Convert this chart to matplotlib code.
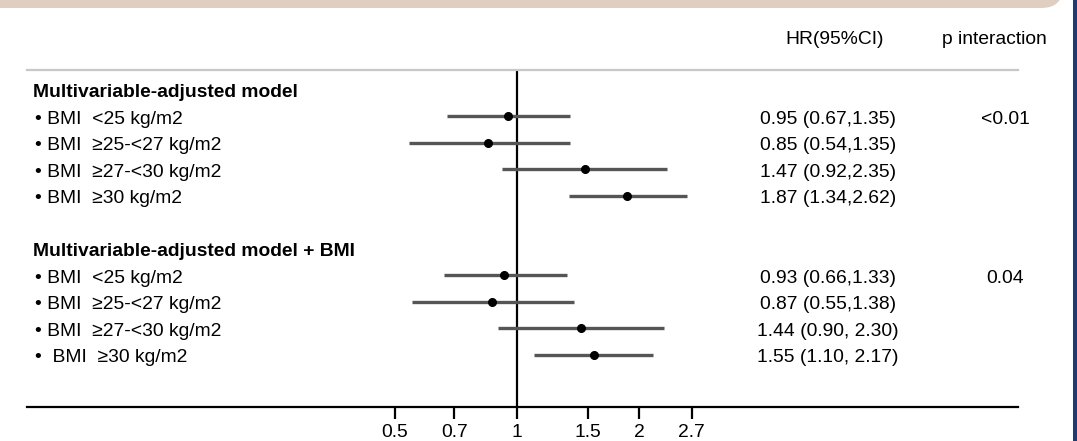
import matplotlib
matplotlib.use("Agg")
import matplotlib.pyplot as plt
from matplotlib.patches import FancyBboxPatch, Rectangle
from matplotlib.transforms import blended_transform_factory
import numpy as np

plt.rcParams['font.family'] = ['Liberation Sans', 'DejaVu Sans']

# ---- data ----
group_titles = ["Multivariable-adjusted model", "Multivariable-adjusted model + BMI"]
labels_g1 = ["• BMI  <25 kg/m2", "• BMI  ≥25-<27 kg/m2", "• BMI  ≥27-<30 kg/m2", "• BMI  ≥30 kg/m2"]
labels_g2 = ["• BMI  <25 kg/m2", "• BMI  ≥25-<27 kg/m2", "• BMI  ≥27-<30 kg/m2", "•  BMI  ≥30 kg/m2"]
hr_g1 = [0.95, 0.85, 1.47, 1.87]
lo_g1 = [0.67, 0.54, 0.92, 1.34]
hi_g1 = [1.35, 1.35, 2.35, 2.62]
hr_g2 = [0.93, 0.87, 1.44, 1.55]
lo_g2 = [0.66, 0.55, 0.90, 1.10]
hi_g2 = [1.33, 1.38, 2.30, 2.17]
hr_text_g1 = ["0.95 (0.67,1.35)", "0.85 (0.54,1.35)", "1.47 (0.92,2.35)", "1.87 (1.34,2.62)"]
hr_text_g2 = ["0.93 (0.66,1.33)", "0.87 (0.55,1.38)", "1.44 (0.90, 2.30)", "1.55 (1.10, 2.17)"]
p_interaction = ["<0.01", "0.04"]
xticks = [0.5, 0.7, 1, 1.5, 2, 2.7]
xtick_labels = ["0.5", "0.7", "1", "1.5", "2", "2.7"]

W, H = 1077, 441
fig = plt.figure(figsize=(W / 100, H / 100), dpi=100)

def fx(px):
    return px / W

def fy(py):
    return 1 - py / H

# decorative top band and right border
fig.patches.append(FancyBboxPatch((fx(-20), fy(8)), fx(1063 + 20), fy(-20) - fy(8),
                                  boxstyle="round,pad=0,rounding_size=0.02",
                                  transform=fig.transFigure, facecolor="#e0cfc1",
                                  edgecolor="none", mutation_aspect=W / H))
fig.patches.append(Rectangle((fx(1073), 0), fx(4), 1, transform=fig.transFigure,
                             facecolor="#1f3b6b", edgecolor="none"))

ax_left, ax_right, ax_top, ax_bot = 27, 1018, 70, 407
ax = fig.add_axes([fx(ax_left), fy(ax_bot), fx(ax_right - ax_left), (ax_bot - ax_top) / H])
ax.set_xscale("log")
ppu = 176.0  # pixels per ln unit
ax.set_xlim(np.exp((ax_left - 517) / ppu), np.exp((ax_right - 517) / ppu))
pitch = 26.5
y0 = 89.8
ax.set_ylim((ax_bot - y0) / pitch, (ax_top - y0) / pitch)

for s in ["left", "right"]:
    ax.spines[s].set_visible(False)
ax.spines["top"].set_color("#c8c8c8")
ax.spines["top"].set_linewidth(1.6)
ax.spines["bottom"].set_color("black")
ax.spines["bottom"].set_linewidth(1.6)
ax.set_yticks([])
ax.set_xticks(xticks)
ax.set_xticklabels(xtick_labels)
ax.xaxis.set_minor_locator(matplotlib.ticker.NullLocator())
fs = 13.9
ax.tick_params(axis="x", length=8.5, width=1.6, labelsize=fs, pad=4)

ax.axvline(1, color="black", lw=1.6, zorder=1)

tr_text = blended_transform_factory(fig.transFigure, ax.transData)
va = "center_baseline"
dy = 0.04  # small nudge so text sits like the reference

groups = [(group_titles[0], labels_g1, hr_g1, lo_g1, hi_g1, hr_text_g1, p_interaction[0], 0),
          (group_titles[1], labels_g2, hr_g2, lo_g2, hi_g2, hr_text_g2, p_interaction[1], 6)]
for title, labs, hr, lo, hi, txt, p, start in groups:
    ax.text(fx(33), start + dy, title, transform=tr_text, fontsize=fs, fontweight="bold",
            va=va, ha="left")
    for i in range(4):
        yy = start + 1 + i
        ax.plot([lo[i], hi[i]], [yy, yy], color="#555555", lw=2.4, solid_capstyle="butt", zorder=2)
        ax.plot(hr[i], yy, "o", color="black", ms=5.5, zorder=3)
        ax.text(fx(35), yy + dy, labs[i], transform=tr_text, fontsize=fs, va=va, ha="left")
        ax.text(fx(828), yy + dy, txt[i], transform=tr_text, fontsize=fs, va=va, ha="center")
    ax.text(fx(1005), start + 1 + dy, p, transform=tr_text, fontsize=fs, va=va, ha="center")

ax.text(fx(835), (38 - y0) / pitch, "HR(95%CI)", transform=tr_text, fontsize=fs,
        va=va, ha="center", clip_on=False)
ax.text(fx(994), (38 - y0) / pitch, "p interaction", transform=tr_text, fontsize=fs,
        va=va, ha="center", clip_on=False)

fig.savefig("out.png", dpi=100)
